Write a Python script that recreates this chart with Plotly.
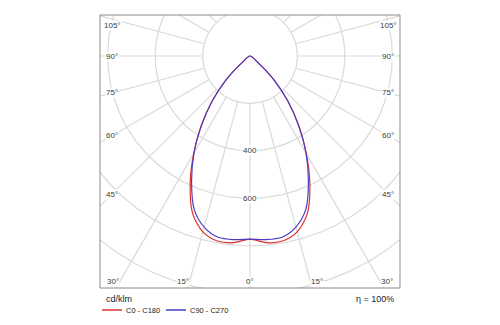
import numpy as np
import plotly.graph_objects as go

# Luminous intensity distribution (cd/klm), gamma measured from nadir
gamma_deg = [0, 5, 10, 15, 20, 25, 30, 35, 40, 45, 50, 55, 60, 65, 70, 75, 80, 85, 90]
c0_c180 = [772, 790, 792, 768, 707, 597, 475, 358, 248, 145, 45, 0, 0, 0, 0, 0, 0, 0, 0]
c90_c270 = [772, 777, 776, 747, 688, 583, 472, 356, 248, 145, 45, 0, 0, 0, 0, 0, 0, 0, 0]

series_names = ["C0 - C180", "C90 - C270"]
series_colors = ["#de2f2f", "#4b3cc4"]

ring_values = [200, 400, 600, 800, 1000, 1200]
ring_labels = [400, 600]
spoke_step = 15
side_labels = [105, 90, 75, 60, 45]
bottom_labels = [30, 15, 0]
unit_label = "cd/klm"
efficiency_label = "η = 100%"

# plot-area geometry (pixels) and the matching data ranges
W, H = 500, 325
L, R, T, B = 100, 100, 15, 37
pw, ph = W - L - R, H - T - B
centre_from_top = 41                      # pole sits 41 px below the frame top
k = 0.2372                                # px per cd/klm
x_half = pw / 2 / k
y_top = centre_from_top / k
y_bot = -(ph - centre_from_top) / k


def to_xy(theta_deg, r):
    t = np.radians(np.asarray(theta_deg, float))
    r = np.asarray(r, float)
    return r * np.sin(t), -r * np.cos(t)


def outline(values):
    g = np.array(gamma_deg, float)
    v = np.array(values, float)
    theta = np.concatenate([-g[::-1], g[1:]])
    rr = np.concatenate([v[::-1], v[1:]])
    x, y = to_xy(theta, rr)
    keep = np.ones(len(x), bool)
    keep[1:] = (np.abs(np.diff(x)) > 1e-9) | (np.abs(np.diff(y)) > 1e-9)
    return x[keep], y[keep]


fig = go.Figure()

grid = dict(color="#d9d9d9", width=1.2)

# concentric rings
ang = np.linspace(0, 360, 721)
for rv in ring_values:
    gx, gy = to_xy(ang, np.full_like(ang, rv))
    fig.add_trace(go.Scatter(x=gx, y=gy, mode="lines", line=grid,
                             hoverinfo="skip", showlegend=False))

# radial spokes starting at the first ring
sx, sy = [], []
for a in range(0, 360, spoke_step):
    px, py = to_xy([a, a], [ring_values[0], 2000])
    sx += list(px) + [None]
    sy += list(py) + [None]
fig.add_trace(go.Scatter(x=sx, y=sy, mode="lines", line=grid,
                         hoverinfo="skip", showlegend=False))

# intensity curves
for name, vals, col in zip(series_names, [c0_c180, c90_c270], series_colors):
    cx, cy = outline(vals)
    fig.add_trace(go.Scatter(x=cx, y=cy, mode="lines", name=name,
                             line=dict(color=col, width=1.2, shape="spline", smoothing=0.8),
                             showlegend=False))

font = dict(family="Liberation Sans, Arial, sans-serif", size=8, color="#3a3a3a")
ann = []

# ring value labels on the nadir line
for rv in ring_labels:
    ann.append(dict(x=0, y=-rv, text=str(rv), showarrow=False, font=font,
                    bgcolor="white", borderpad=0, xanchor="center", yanchor="middle"))

# angle labels along the frame edges
d_side = 138 / k
y_cap = (centre_from_top - 10) / k
for a in side_labels:
    t = np.radians(a)
    yy = -d_side * np.cos(t) / np.sin(t)
    yy = min(yy, y_cap)
    for s in (-1, 1):
        ann.append(dict(x=s * d_side, y=yy, text=f"{a}°", showarrow=False, font=font,
                        bgcolor="white", borderpad=0, xanchor="center", yanchor="middle"))

y_lab = -(ph - centre_from_top - 7) / k
for a in bottom_labels:
    t = np.radians(a)
    xx = -y_lab * np.tan(t)
    for s in ((-1, 1) if a else (1,)):
        anchor = "center" if a == 0 else ("right" if s < 0 else "left")
        ann.append(dict(x=s * xx, y=y_lab, text=f"{a}°", showarrow=False, font=font,
                        bgcolor="white", borderpad=0, xanchor=anchor, yanchor="middle"))


def py2paper(py):
    return (T + ph - py) / ph


def px2paper(px):
    return (px - L) / pw


text_font = dict(family="Liberation Sans, Arial, sans-serif", size=9, color="#222222")
ann.append(dict(xref="paper", yref="paper", x=px2paper(104), y=py2paper(299),
                text=unit_label, showarrow=False, font=text_font,
                xanchor="left", yanchor="middle"))
ann.append(dict(xref="paper", yref="paper", x=px2paper(396), y=py2paper(299),
                text=efficiency_label, showarrow=False, font=text_font,
                xanchor="right", yanchor="middle"))

shapes = [dict(type="rect", xref="paper", yref="paper", x0=0, x1=1, y0=0, y1=1,
               line=dict(color="#8a8a8a", width=1), layer="above")]

# legend keys
leg_y = py2paper(310)
key_x = [(102, 122, 124), (166, 186, 188)]
for (x0, x1, xt), name, col in zip(key_x, series_names, series_colors):
    shapes.append(dict(type="line", xref="paper", yref="paper",
                       x0=px2paper(x0), x1=px2paper(x1), y0=leg_y, y1=leg_y,
                       line=dict(color=col, width=1.5)))
    ann.append(dict(xref="paper", yref="paper", x=px2paper(xt), y=leg_y, text=name,
                    showarrow=False, font=dict(family=font["family"], size=7.5, color="#222222"),
                    xanchor="left", yanchor="middle"))

fig.update_layout(
    width=W, height=H,
    margin=dict(l=L, r=R, t=T, b=B),
    paper_bgcolor="white", plot_bgcolor="white",
    xaxis=dict(range=[-x_half, x_half], visible=False, fixedrange=True),
    yaxis=dict(range=[y_bot, y_top], visible=False, fixedrange=True),
    annotations=ann, shapes=shapes, showlegend=False,
)

fig.write_html("out.html")
